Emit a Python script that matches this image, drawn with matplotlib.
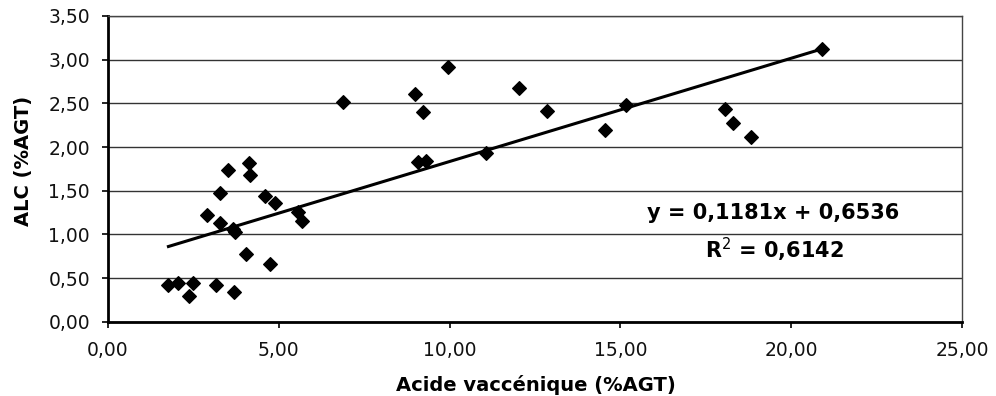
import numpy as np
import matplotlib
matplotlib.use("Agg")
from matplotlib import pyplot as plt
from matplotlib.ticker import FuncFormatter

# acide vaccénique (%AGT) vs ALC (%AGT)
vaccenic = [1.77, 2.06, 2.48, 2.38, 3.15, 3.69, 4.04, 4.74,
            2.91, 3.28, 3.65, 3.72, 3.28, 3.52, 4.13, 4.17,
            4.60, 4.89, 5.57, 5.67, 6.89, 8.99, 9.23, 9.96,
            9.08, 9.30, 11.07, 12.04, 12.86, 14.55, 15.16,
            18.06, 18.28, 18.81, 20.89]
alc = [0.42, 0.44, 0.44, 0.30, 0.42, 0.34, 0.78, 0.66,
       1.22, 1.13, 1.06, 1.03, 1.48, 1.74, 1.82, 1.68,
       1.44, 1.36, 1.26, 1.15, 2.52, 2.61, 2.40, 2.92,
       1.83, 1.84, 1.93, 2.68, 2.41, 2.20, 2.48,
       2.43, 2.28, 2.11, 3.12]

slope = 0.1181
intercept = 0.6536
r2 = 0.6142

plt.rcParams['font.family'] = ['DejaVu Sans']

fig = plt.figure(figsize=(9.96, 3.96), dpi=100)
ax = fig.add_axes([0.1084, 0.187, 0.8576, 0.773])

ax.scatter(vaccenic, alc, marker='D', s=48, color='black', zorder=3)

xs = np.array([min(vaccenic), max(vaccenic)])
ax.plot(xs, slope * xs + intercept, color='black', lw=2.2, zorder=2)

ax.set_xlim(0, 25)
ax.set_ylim(0, 3.5)
ax.set_xticks(np.arange(0, 25.1, 5))
ax.set_yticks(np.arange(0, 3.51, 0.5))
comma = FuncFormatter(lambda v, pos: f"{v:.2f}".replace('.', ','))
ax.xaxis.set_major_formatter(comma)
ax.yaxis.set_major_formatter(comma)
ax.tick_params(labelsize=13.5, length=4, width=1.2, color='black', labelcolor='#111111')
ax.tick_params(axis='x', pad=10)
ax.tick_params(axis='y', pad=9)

ax.yaxis.grid(True, color='#333333', lw=1.0)
ax.set_axisbelow(True)
for side in ['left', 'bottom']:
    ax.spines[side].set_linewidth(2.0)
for side in ['top', 'right']:
    ax.spines[side].set_linewidth(1.0)
    ax.spines[side].set_color('#444444')

ax.set_xlabel('Acide vaccénique (%AGT)', fontsize=14, fontweight='bold')
ax.set_ylabel('ALC (%AGT)', fontsize=14, fontweight='bold')
ax.xaxis.set_label_coords(0.501, -0.172)
ax.yaxis.set_label_coords(-0.088, 0.526)

eq = f"y = {slope:.4f}x + {intercept:.4f}".replace('.', ',')
ax.text(19.47, 1.247, eq, fontsize=15, fontweight='bold', ha='center', va='center')
ax.text(19.5, 0.824, f"R$^{{2}}$ = {r2:.4f}".replace('.', ','), fontsize=15,
        fontweight='bold', ha='center', va='center')

fig.savefig("out.png", dpi=100)
